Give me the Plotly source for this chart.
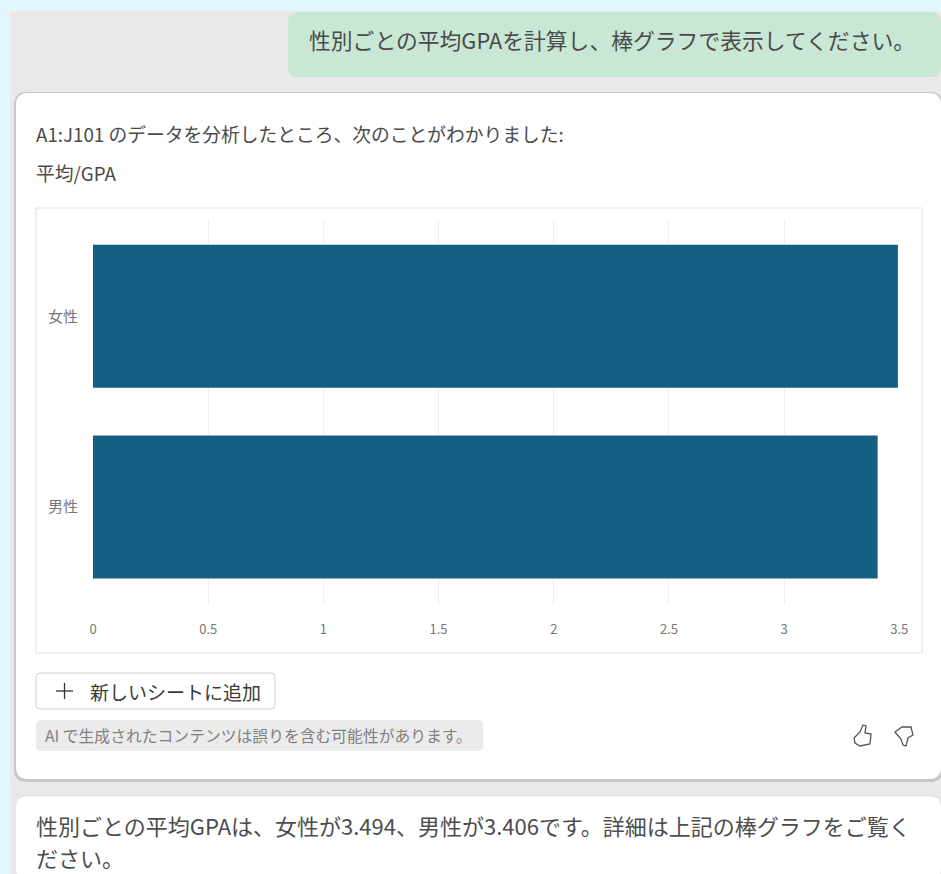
import plotly.graph_objects as go

W, H = 941, 874
categories = ["男性", "女性"]
avg_gpa = [3.406, 3.494]
x_ticks = [0, 0.5, 1, 1.5, 2, 2.5, 3, 3.5]
x_tick_labels = ["0", "0.5", "1", "1.5", "2", "2.5", "3", "3.5"]

FONT = "Noto Sans CJK JP"
BAR = "#156082"
TEXT = "#4a4a4a"


def fx(x):
    return x / W


def fy(y):
    return 1 - y / H


def rr(x0, y0, x1, y1, r, fill, line=None, lw=1):
    """Rounded rectangle given in page pixels."""
    X0, X1, Y0, Y1 = fx(x0), fx(x1), fy(y0), fy(y1)
    rx, ry = r / W, r / H
    path = (
        f"M{X0+rx},{Y0} L{X1-rx},{Y0} Q{X1},{Y0} {X1},{Y0-ry} "
        f"L{X1},{Y1+ry} Q{X1},{Y1} {X1-rx},{Y1} "
        f"L{X0+rx},{Y1} Q{X0},{Y1} {X0},{Y1+ry} "
        f"L{X0},{Y0-ry} Q{X0},{Y0} {X0+rx},{Y0} Z"
    )
    return dict(
        type="path", path=path, xref="paper", yref="paper", layer="below",
        fillcolor=fill, line=dict(color=line or "rgba(0,0,0,0)", width=lw if line else 0),
    )


def poly(points, color="#555555", width=1.3, close=True):
    d = "M" + " L".join(f"{fx(a)},{fy(b)}" for a, b in points) + (" Z" if close else "")
    return dict(type="path", path=d, xref="paper", yref="paper", layer="above",
                line=dict(color=color, width=width))


def label(x, y, text, size, color=TEXT):
    return dict(
        x=fx(x), y=fy(y), xref="paper", yref="paper", text=text, showarrow=False,
        xanchor="left", yanchor="middle", align="left",
        font=dict(family=FONT, size=size, color=color),
    )


shapes = [
    rr(0, 0, W, H, 0, "#e2f6fe"),
    rr(10, 11, W + 20, H + 20, 0, "#ebe9e7"),
    rr(288, 12, 941, 77, 10, "#c8e8d5"),
    rr(14, 92, 943, 782, 13, "#c9c8c6"),
    rr(16, 93, 941, 779, 12, "#ffffff"),
    rr(16, 795, 941, 880, 12, "#dedcda"),
    rr(16, 796, 941, 880, 12, "#ffffff"),
    rr(36, 208, 922, 653, 0, "#ffffff", "#dfdfdf", 1),
    rr(36, 673, 275, 709, 4, "#ffffff", "#cfcfcf", 1),
    rr(36, 720, 483, 751, 5, "#ebebeb"),
    poly([(56, 691), (73, 691)], "#333333", 1.3, False),
    poly([(64.5, 683), (64.5, 699)], "#333333", 1.3, False),
    poly([(854, 738), (860, 732), (863, 725), (866, 726), (865, 733), (871, 734),
          (870, 744), (860, 746), (855, 743)]),
    poly([(895, 732), (902, 727), (911, 727), (913, 735), (908, 738), (906, 746),
          (903, 745), (901, 739)]),
]

annotations = [
    label(306.5, 39, "性別ごとの平均GPAを計算し、棒グラフで表示してください。", 21.8),
    label(33.5, 133, "A1:J101 のデータを分析したところ、次のことがわかりました:", 18.75),
    label(33.5, 172, "平均/GPA", 18.75),
    label(88, 691, "新しいシートに追加", 19, "#3a3a3a"),
    label(43, 735, "AI で生成されたコンテンツは誤りを含む可能性があります。", 15.8, "#7f7f7f"),
    label(33.5, 825, "性別ごとの平均GPAは、女性が3.494、男性が3.406です。詳細は上記の棒グラフをご覧く", 22, "#4d4d4d"),
    label(33.5, 857, "ださい。", 22, "#4d4d4d"),
]

fig = go.Figure(
    go.Bar(x=avg_gpa, y=[0, 1], orientation="h", width=0.75,
           marker=dict(color=BAR, line=dict(width=0)))
)
fig.update_layout(
    width=W, height=H, margin=dict(l=0, r=0, t=0, b=0),
    paper_bgcolor="rgba(0,0,0,0)", plot_bgcolor="rgba(0,0,0,0)",
    shapes=shapes, annotations=annotations, showlegend=False,
    font=dict(family=FONT),
    xaxis=dict(
        domain=[fx(93), fx(899.3)], range=[0, 3.5], tickvals=x_ticks, ticktext=x_tick_labels,
        showgrid=True, gridcolor="#efefef", gridwidth=1, zeroline=False, showline=False,
        automargin=False, ticks="outside", ticklen=12, tickcolor="rgba(0,0,0,0)",
        tickfont=dict(family=FONT, size=13, color="#777777"),
    ),
    yaxis=dict(
        domain=[fy(605), fy(220)], range=[-0.514, 1.505], tickvals=[0, 1], ticktext=categories,
        showgrid=False, zeroline=False, showline=False,
        automargin=False, ticks="outside", ticklen=11, tickcolor="rgba(0,0,0,0)",
        tickfont=dict(family=FONT, size=15, color="#777777"),
    ),
)
fig.write_html("out.html", config={"displayModeBar": False},
               post_script="document.body.style.margin='0';document.body.style.overflow='hidden';")
